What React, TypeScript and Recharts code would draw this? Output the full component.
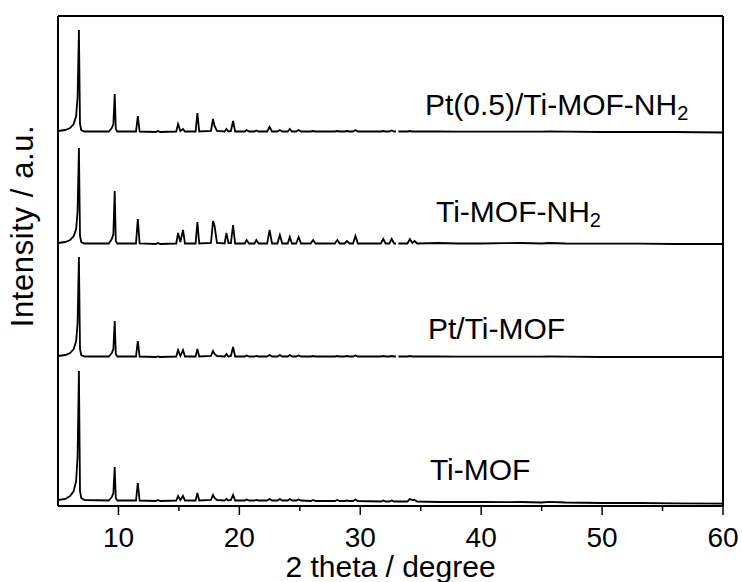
import { LineChart, Line, XAxis, YAxis, ReferenceLine, ReferenceDot } from 'recharts';

// 2θ sampling points (degree)
const twoTheta = [
  5.0, 5.6, 6.0, 6.3, 6.5, 6.62, 6.73, 6.82, 6.92, 7.2,
  9.2, 9.45, 9.58, 9.69, 9.78, 9.9,
  11.45, 11.6, 11.75,
  13.1, 13.27, 13.45,
  14.78, 14.93, 15.12, 15.34, 15.5,
  16.38, 16.53, 16.68,
  17.65, 17.82, 17.95, 18.15,
  18.78, 18.93, 19.1, 19.3, 19.48, 19.65,
  20.45, 20.6, 20.8, 21.25, 21.4, 21.6,
  22.3, 22.5, 22.7, 23.15, 23.35, 23.55,
  24.0, 24.17, 24.35, 24.7, 24.9, 25.1,
  25.9, 26.1, 26.3, 27.9, 28.1, 28.3,
  28.7, 28.9, 29.1, 29.4, 29.6, 29.8,
  31.7, 31.9, 32.1, 32.4, 32.6, 32.8,
  32.95, 33.05, 33.15,
  33.9, 34.1, 34.3, 34.5, 34.7,
  36.5, 38, 40, 42, 43.3, 45, 45.6, 47, 50, 53, 56, 60,
];

// intensities (a.u.) above each pattern's own baseline
const ptNh2 = [
  1, 2, 4, 8, 16, 35, 102, 8, 2, 0.5,
  0.5, 4, 8, 38, 3, 0.5,
  0.5, 16, 0.5,
  0, 1, 0,
  0.5, 8, 1, 3, 0.5,
  0.5, 19, 0.5,
  1, 13, 6, 1,
  0.5, 3, 0.5, 1, 11, 0.5,
  0.5, 2, 0.5, 0.5, 1.5, 0.5,
  0.5, 5, 0.5, 0.5, 2, 0.5,
  0.5, 3, 0.5, 0.5, 2, 0.5,
  0.5, 1, 0.5, 0.5, 1, 0.5,
  0.5, 1, 0.5, 0.5, 2, 0.5,
  0.5, 1, 0.5, 0.5, 1.5, 0.5,
  0.5, null, 0.5,
  0.5, 1, 0.5, 0.5, 0.5,
  0.5, 0.3, 0.3, 0.3, 0.3, 0.3, 0.5, 0.3, 0, 0, 0, -0.5,
];

const tiNh2 = [
  1, 2, 4, 8, 15, 33, 96, 8, 2, 0.5,
  0.5, 5, 10, 53, 3, 0.5,
  0.5, 25, 0.5,
  0, 1, 0,
  0.5, 11, 2, 14, 0.5,
  0.5, 22, 0.5,
  1, 23, 18, 1,
  0.5, 11, 1, 1, 19, 0.5,
  0.5, 4, 0.5, 0.5, 4, 0.5,
  0.5, 14, 0.5, 0.5, 9, 0.5,
  0.5, 7, 0.5, 0.5, 7, 0.5,
  0.5, 4, 0.5, 0.5, 4, 0.5,
  0.5, 3, 0.5, 0.5, 8, 0.5,
  0.5, 5, 0.5, 0.5, 5, 0.5,
  0.5, null, 0.5,
  0.5, 5, 1, 3, 0.5,
  1, 0.5, 0.5, 0.8, 1, 0.5, 1, 0.5, 0.3, 0.3, 0, 0,
];

const ptTi = [
  1, 2, 4, 8, 16, 34, 100, 8, 2, 0.5,
  0.5, 4, 8, 36, 3, 0.5,
  0.5, 16, 0.5,
  0, 0.5, 0,
  0.5, 7, 1, 7, 0.5,
  0.5, 8, 0.5,
  1, 6, 3, 1,
  0.5, 3, 0.5, 1, 10, 0.5,
  0.5, 1.5, 0.5, 0.5, 1, 0.5,
  0.5, 2, 0.5, 0.5, 2, 0.5,
  0.5, 2, 0.5, 0.5, 1.5, 0.5,
  0.5, 1, 0.5, 0.5, 1, 0.5,
  0.5, 1, 0.5, 0.5, 1.5, 0.5,
  0.5, 1, 0.5, 0.5, 1, 0.5,
  0.5, null, 0.5,
  0.5, 1, 0.5, 0.5, 0.5,
  0.5, 0.3, 0.3, 0.3, 0.3, 0.3, 0.5, 0.3, 0, 0, 0, 0,
];

const tiMof = [
  1, 2, 5, 10, 20, 45, 130, 10, 3, 1,
  0.5, 4, 8, 34, 3, 0.5,
  0.5, 18, 0.5,
  0, 1, 0,
  0.5, 5, 1, 5, 0.5,
  0.5, 8, 0.5,
  1, 6, 3, 1,
  0.5, 2, 0.5, 1, 6, 0.5,
  0.5, 1.5, 0.5, 0.5, 1, 0.5,
  0.5, 2, 0.5, 0.5, 2, 0.5,
  0.5, 2, 0.5, 0.5, 1.5, 0.5,
  0, 1, 0, 0, 1, 0,
  0, 0.5, 0, 0, 1.5, 0,
  -0.5, 0.5, -0.5, -0.5, 0.5, -0.5,
  -0.5, -0.5, -0.5,
  -0.5, 2, 1, 1, -0.5,
  -1, -1, -1, -1.2, -1, -1.5, -0.8, -1.5, -2, -2, -2.3, -2.6,
];

// vertical stacking offsets (a.u.)
const offsets = { ptNh2: 374, tiNh2: 262, ptTi: 149, tiMof: 5 };

const xTicks = [10, 15, 20, 25, 30, 35, 40, 45, 50, 55, 60];
const yTicks = [149, 262, 374];

const series = [
  { key: 'ptNh2', values: ptNh2, name: 'Pt(0.5)/Ti-MOF-NH', sub: '2', lx: 35.35, ly: 391 },
  { key: 'tiNh2', values: tiNh2, name: 'Ti-MOF-NH', sub: '2', lx: 36.26, ly: 284 },
  { key: 'ptTi', values: ptTi, name: 'Pt/Ti-MOF', sub: '', lx: 35.6, ly: 167 },
  { key: 'tiMof', values: tiMof, name: 'Ti-MOF', sub: '', lx: 35.76, ly: 26 },
];

const table = twoTheta.map((t, i) => {
  const row: Record<string, number | null> = { t };
  series.forEach((s) => {
    const v = s.values[i];
    row[s.key] = v == null ? null : v + offsets[s.key as keyof typeof offsets];
  });
  return row;
});

const FONT = '"Liberation Sans", Arial, Helvetica, sans-serif';

function XTick({ x, y, payload }: any) {
  const major = payload.value % 10 === 0;
  return (
    <g>
      <line x1={x} x2={x} y1={y} y2={y + (major ? 9 : 5)} stroke="#000" strokeWidth={1.5} />
      {major && (
        <text x={x} y={y + 21} dy="0.71em" textAnchor="middle" fontSize={28} fontFamily={FONT} fill="#000">
          {payload.value}
        </text>
      )}
    </g>
  );
}

export default function App() {
  return (
    <div style={{ position: 'absolute', left: 0, top: 0, width: 742, height: 582, background: '#fff' }}>
      <LineChart width={742} height={582} data={table} margin={{ top: 16, right: 19, bottom: 0, left: 0 }}>
        <XAxis
          dataKey="t"
          type="number"
          domain={[5, 60]}
          allowDataOverflow
          ticks={xTicks}
          tick={<XTick />}
          tickLine={false}
          tickSize={0}
          tickMargin={0}
          height={76}
          axisLine={{ stroke: '#000', strokeWidth: 2 }}
          interval={0}
          label={{
            value: '2 theta / degree',
            position: 'insideBottom',
            offset: 5,
            fontSize: 30,
            fontFamily: FONT,
            fill: '#000',
          }}
        />
        <YAxis
          type="number"
          domain={[0, 490]}
          allowDataOverflow
          ticks={yTicks}
          tick={false}
          tickSize={4}
          tickLine={{ stroke: '#000', strokeWidth: 1.5 }}
          width={58}
          axisLine={{ stroke: '#000', strokeWidth: 2 }}
          label={(p: any) => {
            const vb = p.viewBox || { x: 0 };
            const cx = vb.x + 33;
            const cy = 226;
            return (
              <text
                x={cx}
                y={cy}
                transform={`rotate(-90, ${cx}, ${cy})`}
                textAnchor="middle"
                fontSize={31}
                letterSpacing={0.6}
                fontFamily={FONT}
                fill="#000"
              >
                Intensity / a.u.
              </text>
            );
          }}
        />
        <ReferenceLine y={490} stroke="#000" strokeWidth={2} />
        <ReferenceLine x={60} stroke="#000" strokeWidth={2} />
        {series.map((s) => (
          <Line
            key={s.key}
            dataKey={s.key}
            type="linear"
            stroke="#000"
            strokeWidth={1.8}
            dot={false}
            activeDot={false}
            connectNulls={false}
            isAnimationActive={false}
          />
        ))}
        {series.map((s) => (
          <ReferenceDot
            key={'lab-' + s.key}
            x={s.lx}
            y={s.ly}
            r={0}
            shape={(p: any) => (
              <text x={p.cx} y={p.cy} fontSize={30} fontFamily={FONT} fill="#000">
                {s.name}
                {s.sub && (
                  <tspan dy={5} fontSize={20}>
                    {s.sub}
                  </tspan>
                )}
              </text>
            )}
          />
        ))}
      </LineChart>
    </div>
  );
}
